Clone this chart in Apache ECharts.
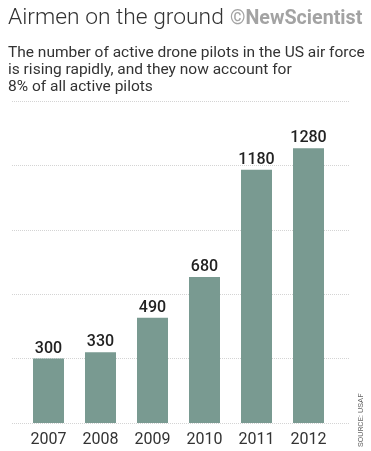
<!DOCTYPE html>
<html>
<head>
<meta charset="utf-8">
<script src="https://cdn.jsdelivr.net/npm/echarts@6/dist/echarts.min.js"></script>
<style>
html,body{margin:0;padding:0;background:#fff;}
#chart{width:371px;height:451px;}
</style>
</head>
<body>
<div id="chart"></div>
<script>
const categories = ['2007', '2008', '2009', '2010', '2011', '2012'];
const pilots = [300, 330, 490, 680, 1180, 1280];
const yTicks = [0, 300, 600, 900, 1200, 1500];

const titleText = 'Airmen on the ground';
const brandText = '©NewScientist';
const subtitleText = 'The number of active drone pilots in the US air force\nis rising rapidly, and they now account for\n8% of all active pilots';
const sourceText = 'SOURCE: USAF';

const FONT = 'Roboto';
const chart = echarts.init(document.getElementById('chart'), null, {renderer: 'canvas'});
const yMax = yTicks[yTicks.length - 1];
const yInterval = yTicks[1] - yTicks[0];

chart.setOption({
  backgroundColor: '#ffffff',
  animation: false,
  title: [
    {text: titleText, left: 8, top: 7, padding: 0,
     textStyle: {fontFamily: FONT, fontSize: 22.8, fontWeight: 300, color: '#333333'}},
    {text: brandText, left: 230, top: 9.5, padding: 0,
     textStyle: {fontFamily: FONT, fontSize: 19.7, fontWeight: 'bold', color: '#a3a3a3'}},
    {text: subtitleText, left: 8, top: 44.5, padding: 0,
     textStyle: {fontFamily: FONT, fontSize: 15.5, fontWeight: 'normal', color: '#333333', lineHeight: 17}}
  ],
  graphic: [
    {type: 'text', x: 357, y: 447, rotation: Math.PI / 2,
     style: {text: sourceText, fontFamily: FONT, fontSize: 8, fill: '#666666', align: 'left', verticalAlign: 'top'}}
  ],
  grid: [
    {left: 12, right: 21, top: 101, bottom: 28},
    {left: 22.5, right: 36.5, top: 101, bottom: 28}
  ],
  xAxis: [
    {type: 'category', gridIndex: 0, data: categories, show: false},
    {type: 'category', gridIndex: 1, data: categories,
     axisLine: {show: false}, axisTick: {show: false},
     axisLabel: {fontFamily: FONT, fontSize: 16, color: '#333333', margin: 9}}
  ],
  yAxis: [
    {type: 'value', gridIndex: 0, min: 0, max: yMax, interval: yInterval,
     axisLine: {show: false}, axisTick: {show: false}, axisLabel: {show: false},
     splitLine: {show: true, lineStyle: {color: '#d4d4d4', type: [1, 1], width: 1}}},
    {type: 'value', gridIndex: 1, min: 0, max: yMax, interval: yInterval,
     axisLine: {show: false}, axisTick: {show: false}, axisLabel: {show: false},
     splitLine: {show: false}}
  ],
  series: [
    {type: 'bar', xAxisIndex: 1, yAxisIndex: 1, data: pilots, barWidth: 31,
     itemStyle: {color: '#799a91'},
     label: {show: true, position: 'top', distance: 2,
             fontFamily: FONT, fontSize: 16, fontWeight: 500, color: '#222222'}}
  ]
});
</script>
</body>
</html>
